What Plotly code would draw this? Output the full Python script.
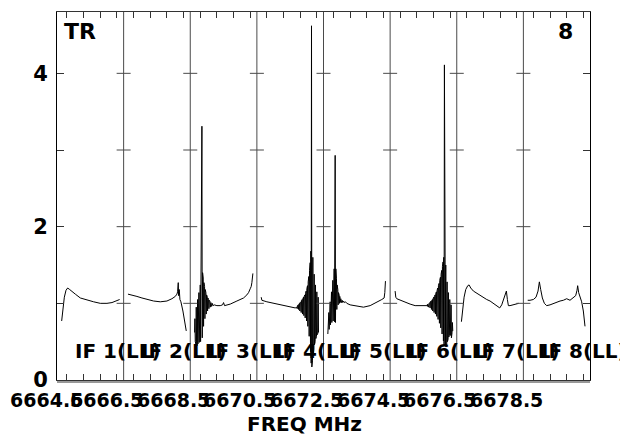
import plotly.graph_objects as go

# --- data: one spectrum per IF, offsets in MHz from the start of its panel ---
if_names = ["IF 1(LL)", "IF 2(LL)", "IF 3(LL)", "IF 4(LL)",
            "IF 5(LL)", "IF 6(LL)", "IF 7(LL)", "IF 8(LL)"]
freq_start = 6664.5
if_width = 2.0
freq_ticks = [6664.5, 6666.5, 6668.5, 6670.5, 6672.5, 6674.5, 6676.5, 6678.5]
freq_ticktext = ["6664.5", "6666.5", "6668.5", "6670.5", "6672.5", "6674.5", "6676.5", "6678.5"]

if1_off = [0.14, 0.18, 0.22, 0.27, 0.32, 0.38, 0.45, 0.55, 0.70, 0.90, 1.10, 1.30, 1.50, 1.65, 1.80, 1.88]
if1_amp = [0.77, 0.95, 1.08, 1.17, 1.20, 1.18, 1.15, 1.12, 1.07, 1.04, 1.02, 1.00, 1.00, 1.01, 1.03, 1.05]

if2_off = [0.13, 0.25, 0.40, 0.55, 0.70, 0.90, 1.10, 1.30, 1.45, 1.55, 1.60, 1.62, 1.64, 1.65, 1.67,
           1.69, 1.72, 1.78, 1.88]
if2_amp = [1.12, 1.11, 1.09, 1.07, 1.05, 1.03, 1.02, 1.03, 1.06, 1.09, 1.12, 1.15, 1.27, 1.10, 1.18,
           1.05, 1.02, 0.90, 0.64]

if3_off = [0.13, 0.14, 0.15, 0.16, 0.17, 0.18, 0.19, 0.20, 0.21, 0.22, 0.23, 0.24, 0.25, 0.26, 0.27,
           0.28, 0.29, 0.30, 0.31, 0.32, 0.33, 0.34, 0.35, 0.36, 0.37, 0.38, 0.39, 0.40, 0.41, 0.42,
           0.43, 0.44, 0.45, 0.46, 0.47, 0.48, 0.49, 0.50, 0.51, 0.52, 0.53, 0.54, 0.55, 0.56, 0.57,
           0.58, 0.59, 0.60, 0.62, 0.64, 0.66, 0.68, 0.72, 0.80, 0.90, 0.97, 1.00, 1.03, 1.20, 1.40,
           1.60, 1.70, 1.75, 1.80, 1.83, 1.85, 1.88]
if3_amp = [0.62, 0.80, 0.50, 0.88, 0.47, 0.95, 0.46, 1.00, 0.45, 1.05, 0.47, 1.10, 0.48, 1.14, 0.49,
           1.19, 0.50, 1.24, 0.50, 1.30, 0.52, 1.36, 3.31, 0.55, 1.40, 0.62, 1.33, 0.70, 1.27, 0.75,
           1.22, 0.80, 1.18, 0.83, 1.14, 0.86, 1.11, 0.88, 1.09, 0.90, 1.07, 0.92, 1.05, 0.93, 1.04,
           0.94, 1.03, 0.95, 1.01, 0.96, 1.00, 0.97, 0.98, 0.97, 0.97, 0.98, 1.01, 0.97, 0.99, 1.03,
           1.07, 1.11, 1.14, 1.19, 1.22, 1.27, 1.39]

if4_off = [0.13, 0.15, 0.30, 0.50, 0.70, 0.90, 1.05, 1.15,
           1.20, 1.21, 1.22, 1.23, 1.24, 1.25, 1.26, 1.27, 1.28, 1.29, 1.30, 1.31, 1.32, 1.33, 1.34,
           1.35, 1.36, 1.37, 1.38, 1.39, 1.40, 1.41, 1.42, 1.43, 1.44, 1.45, 1.46, 1.47, 1.48, 1.49,
           1.50, 1.51, 1.52, 1.53, 1.54, 1.55, 1.56, 1.57, 1.58, 1.59, 1.60, 1.61, 1.62, 1.63, 1.64,
           1.65, 1.66, 1.67, 1.68, 1.69, 1.70, 1.71, 1.72, 1.73, 1.74, 1.75, 1.76, 1.77, 1.78, 1.79,
           1.80, 1.81, 1.82, 1.83, 1.84, 1.85]
if4_amp = [1.08, 1.04, 1.02, 1.00, 0.98, 0.96, 0.95, 0.94,
           0.95, 0.93, 0.97, 0.92, 0.98, 0.92, 0.99, 0.91, 1.00, 0.90, 1.01, 0.89, 1.02, 0.88, 1.04,
           0.87, 1.05, 0.86, 1.06, 0.85, 1.08, 0.84, 1.09, 0.83, 1.11, 0.81, 1.13, 0.79, 1.16, 0.77,
           1.19, 0.74, 1.23, 0.70, 1.28, 0.65, 1.35, 0.57, 1.43, 0.48, 1.53, 0.37, 1.68, 0.22, 4.62,
           0.17, 1.76, 0.25, 1.60, 0.33, 1.48, 0.40, 1.38, 0.46, 1.30, 0.50, 1.24, 0.54, 1.19, 0.57,
           1.15, 0.59, 1.11, 0.61, 1.08, 0.62]

if5_off = [0.13, 0.14, 0.15, 0.16, 0.17, 0.18, 0.19, 0.20, 0.21, 0.22, 0.23, 0.24, 0.25, 0.26, 0.27,
           0.28, 0.29, 0.30, 0.31, 0.32, 0.33, 0.34, 0.35, 0.36, 0.37, 0.38, 0.39, 0.40, 0.41, 0.42,
           0.43, 0.44, 0.45, 0.46, 0.47, 0.48, 0.49, 0.50, 0.52, 0.54, 0.56, 0.58, 0.60, 0.63, 0.66,
           0.70, 0.80, 1.00, 1.20, 1.40, 1.60, 1.75, 1.82, 1.84, 1.86]
if5_amp = [0.60, 0.80, 0.62, 0.88, 0.66, 0.95, 0.70, 1.02, 0.72, 1.08, 0.74, 1.15, 0.75, 1.22, 0.76,
           1.30, 0.77, 1.38, 0.78, 1.45, 0.76, 1.50, 2.93, 0.75, 1.45, 0.85, 1.32, 0.92, 1.24, 0.96,
           1.18, 0.98, 1.14, 0.99, 1.11, 1.00, 1.09, 1.01, 1.06, 1.01, 1.04, 1.01, 1.03, 1.01, 1.02,
           1.00, 0.98, 0.96, 0.95, 0.97, 1.01, 1.05, 1.07, 1.14, 1.29]

if6_off = [0.15, 0.17, 0.20, 0.30, 0.45, 0.60, 0.75, 0.90, 1.00, 1.05,
           1.10, 1.11, 1.12, 1.13, 1.14, 1.15, 1.16, 1.17, 1.18, 1.19, 1.20, 1.21, 1.22, 1.23, 1.24,
           1.25, 1.26, 1.27, 1.28, 1.29, 1.30, 1.31, 1.32, 1.33, 1.34, 1.35, 1.36, 1.37, 1.38, 1.39,
           1.40, 1.41, 1.42, 1.43, 1.44, 1.45, 1.46, 1.47, 1.48, 1.49, 1.50, 1.51, 1.52, 1.53, 1.54,
           1.55, 1.56, 1.57, 1.58, 1.59, 1.60, 1.61, 1.62, 1.63, 1.64, 1.65, 1.66, 1.67, 1.68, 1.69,
           1.70, 1.71, 1.72, 1.73, 1.74, 1.75, 1.76, 1.77, 1.78, 1.79, 1.80, 1.81, 1.82, 1.83, 1.84,
           1.85, 1.86, 1.87, 1.88]
if6_amp = [1.16, 1.08, 1.06, 1.04, 1.01, 0.99, 0.97, 0.97, 0.97, 0.97,
           0.97, 0.98, 0.96, 0.99, 0.96, 0.99, 0.95, 1.00, 0.95, 1.01, 0.94, 1.02, 0.93, 1.03, 0.92,
           1.04, 0.91, 1.05, 0.90, 1.06, 0.89, 1.08, 0.88, 1.09, 0.87, 1.11, 0.86, 1.13, 0.85, 1.15,
           0.83, 1.17, 0.81, 1.20, 0.79, 1.23, 0.77, 1.26, 0.74, 1.30, 0.71, 1.34, 0.68, 1.38, 0.64,
           1.43, 0.60, 1.48, 0.56, 1.54, 0.51, 1.60, 0.47, 4.11, 0.45, 1.66, 0.44, 1.50, 0.43, 1.38,
           0.47, 1.28, 0.50, 1.20, 0.53, 1.14, 0.56, 1.09, 0.58, 1.05, 0.60, 1.02, 0.58, 0.98, 0.55,
           0.90, 0.62, 0.75, 0.64]

if7_off = [0.14, 0.18, 0.22, 0.27, 0.33, 0.37, 0.42, 0.50, 0.60, 0.70, 0.80, 0.90, 1.00, 1.10, 1.20,
           1.29, 1.35, 1.40, 1.45, 1.49, 1.52, 1.55, 1.60, 1.70, 1.80, 1.86]
if7_amp = [0.76, 0.95, 1.08, 1.18, 1.23, 1.24, 1.20, 1.16, 1.13, 1.10, 1.07, 1.05, 1.03, 1.00, 0.97,
           0.94, 0.98, 1.05, 1.13, 1.16, 1.05, 0.97, 0.97, 0.98, 0.99, 1.00]

if8_off = [0.13, 0.20, 0.30, 0.38, 0.44, 0.48, 0.52, 0.57, 0.63, 0.70, 0.80, 0.90, 1.00, 1.10, 1.20,
           1.30, 1.40, 1.50, 1.57, 1.61, 1.63, 1.66, 1.70, 1.75, 1.80, 1.85]
if8_amp = [1.04, 1.04, 1.05, 1.08, 1.16, 1.28, 1.18, 1.07, 1.00, 0.97, 0.98, 1.00, 1.02, 1.03, 1.04,
           1.06, 1.04, 1.07, 1.10, 1.17, 1.23, 1.14, 1.08, 1.02, 0.90, 0.70]

spectra = [(if1_off, if1_amp), (if2_off, if2_amp), (if3_off, if3_amp), (if4_off, if4_amp),
           (if5_off, if5_amp), (if6_off, if6_amp), (if7_off, if7_amp), (if8_off, if8_amp)]

FONT = "DejaVu Sans"
Y_MAX = 4.8
freq_end = freq_start + if_width * len(if_names)


def bold(s):
    return "<b>" + s + "</b>"


fig = go.Figure()
for k, (off, amp) in enumerate(spectra):
    f0 = freq_start + if_width * k
    fig.add_trace(go.Scatter(
        x=[f0 + o for o in off], y=amp, mode="lines",
        line=dict(color="black", width=1), hoverinfo="skip",
    ))

# panel separators + cross ticks at y = 1..4
shapes = []
for k in range(1, len(if_names)):
    xb = freq_start + if_width * k
    shapes.append(dict(type="line", xref="x", yref="paper", x0=xb, x1=xb, y0=0, y1=1,
                       line=dict(color="#4a4a4a", width=1), layer="above"))
    for yv in [1, 2, 3, 4]:
        shapes.append(dict(type="line", xref="x", yref="y", xsizemode="pixel", xanchor=xb,
                           x0=-7, x1=7, y0=yv, y1=yv, line=dict(color="#4a4a4a", width=1)))
# double bottom line
shapes.append(dict(type="line", xref="paper", yref="paper", x0=0, x1=1,
                   ysizemode="pixel", yanchor=0, y0=-2, y1=-2, line=dict(color="#333", width=1)))
fig.update_layout(shapes=shapes)

# minor freq ticks inside each IF panel
minor = [freq_start + if_width * k + d for k in range(len(if_names)) for d in (0.3, 0.8, 1.3, 1.8)]

fig.update_xaxes(
    range=[freq_start, freq_end], tickvals=minor, showticklabels=False,
    ticks="inside", ticklen=6, tickcolor="#333", showgrid=False, zeroline=False,
    showline=True, linecolor="#333", linewidth=1, mirror="ticks",
)
fig.update_yaxes(
    range=[0, Y_MAX], tickvals=[0, 1, 2, 3, 4], ticktext=[bold("0"), "", bold("2"), "", bold("4")],
    ticks="inside", ticklen=7, tickcolor="#333", showgrid=False, zeroline=False,
    showline=True, linecolor="black", linewidth=1, mirror="ticks", ticklabelstandoff=4,
    tickfont=dict(family=FONT, size=21, color="black"),
)

ann = []
for i, (v, t) in enumerate(zip(freq_ticks, freq_ticktext)):
    # first label would run past the page's left edge; pin it to the paper edge instead
    if i == 0:
        pos = dict(x=0, xref="paper", xanchor="left", xshift=-49)
    else:
        pos = dict(x=v, xref="x", xanchor="center", xshift=-17)
    ann.append(dict(y=0, yref="paper", text=bold(t), showarrow=False,
                    yanchor="top", yshift=-7,
                    font=dict(family=FONT, size=19, color="black"), **pos))
for k, name in enumerate(if_names):
    ann.append(dict(x=freq_start + if_width * k + 0.47, y=0.38, xref="x", yref="y", text=bold(name),
                    showarrow=False, xanchor="left", yanchor="middle",
                    font=dict(family=FONT, size=20, color="black")))
ann.append(dict(x=6671.94, y=0, xref="x", yref="paper", text=bold("FREQ MHz"), showarrow=False,
                xanchor="center", yanchor="top", yshift=-30,
                font=dict(family=FONT, size=20, color="black")))
ann.append(dict(x=0, y=1, xref="paper", yref="paper", text=bold("TR"), showarrow=False,
                xanchor="left", yanchor="top", xshift=5, yshift=-5,
                font=dict(family=FONT, size=22, color="black")))
ann.append(dict(x=1, y=1, xref="paper", yref="paper", text=bold("8"), showarrow=False,
                xanchor="right", yanchor="top", xshift=-15, yshift=-5,
                font=dict(family=FONT, size=22, color="black")))

fig.update_layout(
    width=620, height=428, showlegend=False, annotations=ann,
    margin=dict(l=49, r=38, t=4, b=56),
    paper_bgcolor="white", plot_bgcolor="white",
)

fig.write_html("out.html")
